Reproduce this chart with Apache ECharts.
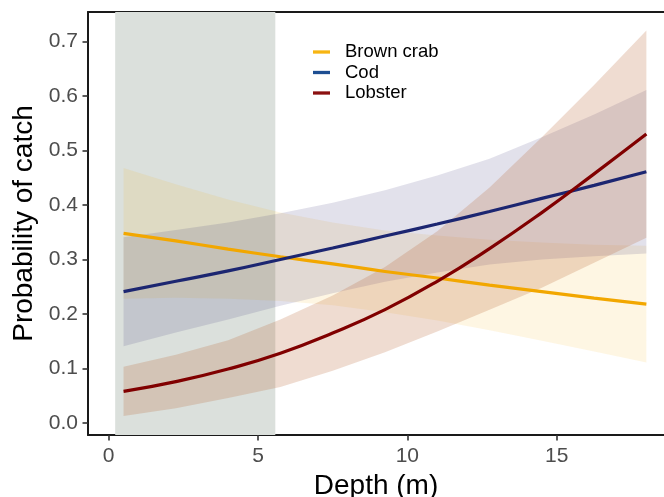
<!DOCTYPE html>
<html>
<head>
<meta charset="utf-8">
<script src="https://cdn.jsdelivr.net/npm/echarts@6/dist/echarts.min.js"></script>
<style>
  html, body { margin: 0; padding: 0; background: #fff; overflow: hidden; }
  #chart { width: 664px; height: 497px; }
</style>
</head>
<body>
<div id="chart"></div>
<script>
// depth grid (m) the fitted curves were read at
const depth = [0.5, 2.25, 4, 5.75, 7.5, 9.25, 11, 12.75, 14.5, 16.25, 18];

const crabFit  = [0.348, 0.334, 0.319, 0.305, 0.292, 0.278, 0.266, 0.253, 0.241, 0.229, 0.218];
const crabLow  = [0.228, 0.230, 0.228, 0.224, 0.216, 0.203, 0.188, 0.170, 0.151, 0.131, 0.111];
const crabHigh = [0.468, 0.438, 0.410, 0.386, 0.368, 0.353, 0.344, 0.336, 0.331, 0.327, 0.325];

const codFit  = [0.241, 0.260, 0.279, 0.300, 0.321, 0.343, 0.365, 0.388, 0.412, 0.436, 0.461];
const codLow  = [0.141, 0.166, 0.190, 0.215, 0.238, 0.259, 0.276, 0.291, 0.300, 0.306, 0.311];
const codHigh = [0.341, 0.354, 0.368, 0.385, 0.404, 0.427, 0.454, 0.485, 0.524, 0.566, 0.611];

const lobsterFit  = [0.058, 0.076, 0.099, 0.128, 0.165, 0.208, 0.260, 0.320, 0.386, 0.457, 0.530];
const lobsterLow  = [0.013, 0.027, 0.046, 0.066, 0.096, 0.130, 0.168, 0.208, 0.248, 0.294, 0.340];
const lobsterHigh = [0.103, 0.125, 0.152, 0.190, 0.234, 0.286, 0.352, 0.432, 0.524, 0.620, 0.720];

const species = ['Brown crab', 'Cod', 'Lobster'];
const shadedDepth = [0.22, 5.58];
const xTicks = [0, 5, 10, 15];
const yTicks = [0, 0.1, 0.2, 0.3, 0.4, 0.5, 0.6, 0.7];

const FONT = '"Liberation Sans", Arial, sans-serif';
const X_MIN = -0.69, X_MAX = 18.59;

const pairs = (ys) => depth.map((d, i) => [d, ys[i]]);

// ribbon as one polygon, mapped through the axes
const ribbon = (name, low, high, fill) => ({
  name: name,
  type: 'custom',
  z: 2,
  silent: true,
  data: [[depth[0], low[0]]],
  renderItem: (params, api) => {
    const pts = [];
    depth.forEach((d, i) => pts.push(api.coord([d, high[i]])));
    for (let i = depth.length - 1; i >= 0; i--) pts.push(api.coord([depth[i], low[i]]));
    return { type: 'polygon', shape: { points: pts }, style: { fill: fill } };
  }
});

const fitLine = (name, ys, color) => ({
  name: name,
  type: 'line',
  z: 3,
  data: pairs(ys),
  smooth: 0.5,
  showSymbol: false,
  silent: true,
  lineStyle: { color: color, width: 3.2 },
  itemStyle: { color: color }
});

const chart = echarts.init(document.getElementById('chart'));

chart.setOption({
  animation: false,
  backgroundColor: '#fff',
  // fixed panel, don't let v6 shrink it to fit the axis title
  grid: { left: 88, right: 0, top: 12, bottom: 62, outerBoundsMode: 'none' },
  legend: {
    orient: 'vertical',
    left: 313, top: 42.5,
    padding: 0,
    icon: 'rect',
    itemWidth: 17, itemHeight: 3.3,
    itemGap: 1.5,
    textStyle: { fontFamily: FONT, fontSize: 18.5, color: '#000', lineHeight: 19, padding: [0, 0, 0, 10] },
    data: [
      { name: species[0], itemStyle: { color: '#F7B512' } },
      { name: species[1], itemStyle: { color: '#1D4E92' } },
      { name: species[2], itemStyle: { color: '#8B1010' } }
    ]
  },
  xAxis: [
    {
      type: 'value',
      min: X_MIN, max: X_MAX,
      name: 'Depth (m)',
      nameLocation: 'middle',
      nameGap: 28,
      nameTextStyle: { fontFamily: FONT, fontSize: 28, color: '#000' },
      splitLine: { show: false },
      axisLine: { onZero: false, lineStyle: { color: '#1a1a1a', width: 2 } },
      axisTick: { customValues: xTicks, length: 5.5, lineStyle: { color: '#333', width: 1.6 } },
      axisLabel: {
        customValues: xTicks, margin: 11,
        fontFamily: FONT, fontSize: 21, color: '#4d4d4d',
        formatter: (v) => String(v)
      }
    },
    {
      // top panel border
      type: 'value',
      position: 'top',
      min: X_MIN, max: X_MAX,
      splitLine: { show: false },
      axisLine: { show: true, onZero: false, lineStyle: { color: '#1a1a1a', width: 2 } },
      axisTick: { show: false },
      axisLabel: { show: false }
    }
  ],
  yAxis: {
    type: 'value',
    min: -0.022, max: 0.754,
    name: 'Probability of catch',
    nameLocation: 'middle',
    nameGap: 48,
    nameTextStyle: { fontFamily: FONT, fontSize: 28, color: '#000' },
    splitLine: { show: false },
    axisLine: { show: true, onZero: false, lineStyle: { color: '#1a1a1a', width: 2 } },
    axisTick: { show: true, customValues: yTicks, length: 5.5, lineStyle: { color: '#333', width: 1.6 } },
    axisLabel: {
      customValues: yTicks, margin: 10,
      fontFamily: FONT, fontSize: 21, color: '#4d4d4d',
      formatter: (v) => v.toFixed(1)
    }
  },
  series: [
    {
      name: 'shallow',
      type: 'line',
      z: 1,
      data: [],
      markArea: {
        silent: true,
        itemStyle: { color: '#dbe0dc', opacity: 1 },
        data: [[{ xAxis: shadedDepth[0] }, { xAxis: shadedDepth[1] }]]
      }
    },
    ribbon('Brown crab CI', crabLow, crabHigh, 'rgba(245,176,0,0.11)'),
    ribbon('Cod CI', codLow, codHigh, 'rgba(50,40,110,0.14)'),
    ribbon('Lobster CI', lobsterLow, lobsterHigh, 'rgba(185,105,55,0.23)'),
    fitLine(species[0], crabFit, '#F2A700'),
    fitLine(species[1], codFit, '#1C2671'),
    fitLine(species[2], lobsterFit, '#800000')
  ]
});
</script>
</body>
</html>
